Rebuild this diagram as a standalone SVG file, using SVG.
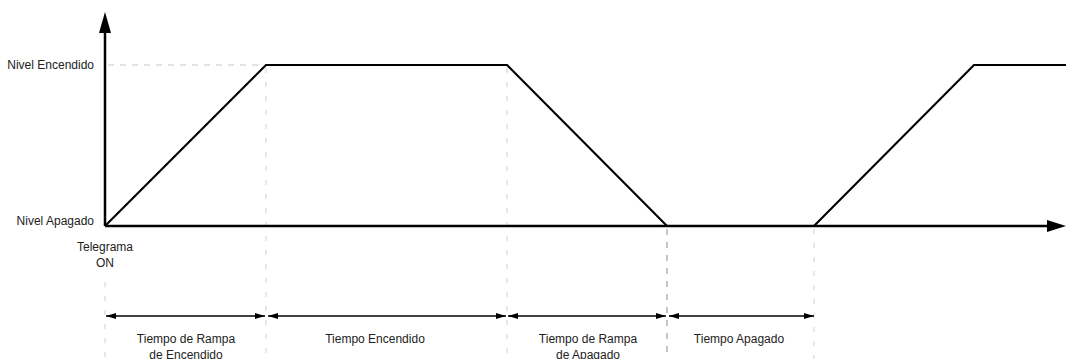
<svg xmlns="http://www.w3.org/2000/svg" width="1066" height="359" viewBox="0 0 1066 359">
<style>
text{font-family:"Liberation Sans",Arial,sans-serif;font-size:12px;fill:#222}
.guide{stroke:#c8c8c8;stroke-width:1;stroke-dasharray:6 6;fill:none}
.vguide{stroke:#cfcfcf;stroke-width:1;stroke-dasharray:5 9;fill:none}
.vdark{stroke:#8a8a8a;stroke-width:1;stroke-dasharray:6 7;fill:none}
.axis{stroke:#000;stroke-width:2.5;fill:none}
.wave{stroke:#000;stroke-width:2.2;fill:none;stroke-linejoin:miter}
.dim{stroke:#000;stroke-width:1.5;fill:none;marker-start:url(#ds);marker-end:url(#de)}
</style>
<defs>
<marker id="de" viewBox="0 0 10 6" refX="10" refY="3" markerWidth="10" markerHeight="6" markerUnits="userSpaceOnUse" orient="auto"><path d="M0,0L10,3L0,6z" fill="#000"/></marker>
<marker id="ds" viewBox="0 0 10 6" refX="0" refY="3" markerWidth="10" markerHeight="6" markerUnits="userSpaceOnUse" orient="auto"><path d="M10,0L0,3L10,6z" fill="#000"/></marker>
</defs>
<g id="guides">
<line class="guide" x1="108" y1="65" x2="264" y2="65"/>
<line class="vguide" x1="266" y1="68" x2="266" y2="359"/>
<line class="vguide" x1="507" y1="68" x2="507" y2="359"/>
<line class="vdark" x1="667" y1="229" x2="667" y2="359"/>
<line class="vguide" x1="814" y1="229" x2="814" y2="359"/>
<line class="vguide" x1="105" y1="282" x2="105" y2="359"/>
</g>
<g id="axes">
<line class="axis" x1="105" y1="226" x2="105" y2="32"/>
<path d="M99,33L105,12L111,33z" fill="#000"/>
<line class="axis" x1="105" y1="226" x2="1048" y2="226"/>
<path d="M1047,220L1066,226L1047,232z" fill="#000"/>
</g>
<g id="waveform">
<polyline class="wave" points="105,226 266,65 507,65 667,226 814,226 974,65 1066,65"/>
</g>
<g id="connectors">
<line class="dim" x1="106" y1="316" x2="265" y2="316"/>
<line class="dim" x1="268" y1="316" x2="506" y2="316"/>
<line class="dim" x1="508" y1="316" x2="666" y2="316"/>
<line class="dim" x1="669" y1="316" x2="814" y2="316"/>
</g>
<g id="labels">
<text x="94" y="69" text-anchor="end">Nivel Encendido</text>
<text x="94" y="225" text-anchor="end">Nivel Apagado</text>
<text x="105" y="251" text-anchor="middle">Telegrama</text>
<text x="105" y="267" text-anchor="middle">ON</text>
</g>
<g id="n-rampa-encendido"><text x="186" y="343" text-anchor="middle">Tiempo de Rampa</text><text x="186" y="359" text-anchor="middle">de Encendido</text></g>
<g id="n-encendido"><text x="375" y="343" text-anchor="middle">Tiempo Encendido</text></g>
<g id="n-rampa-apagado"><text x="588" y="343" text-anchor="middle">Tiempo de Rampa</text><text x="588" y="359" text-anchor="middle">de Apagado</text></g>
<g id="n-apagado"><text x="739" y="343" text-anchor="middle">Tiempo Apagado</text></g>
</svg>
